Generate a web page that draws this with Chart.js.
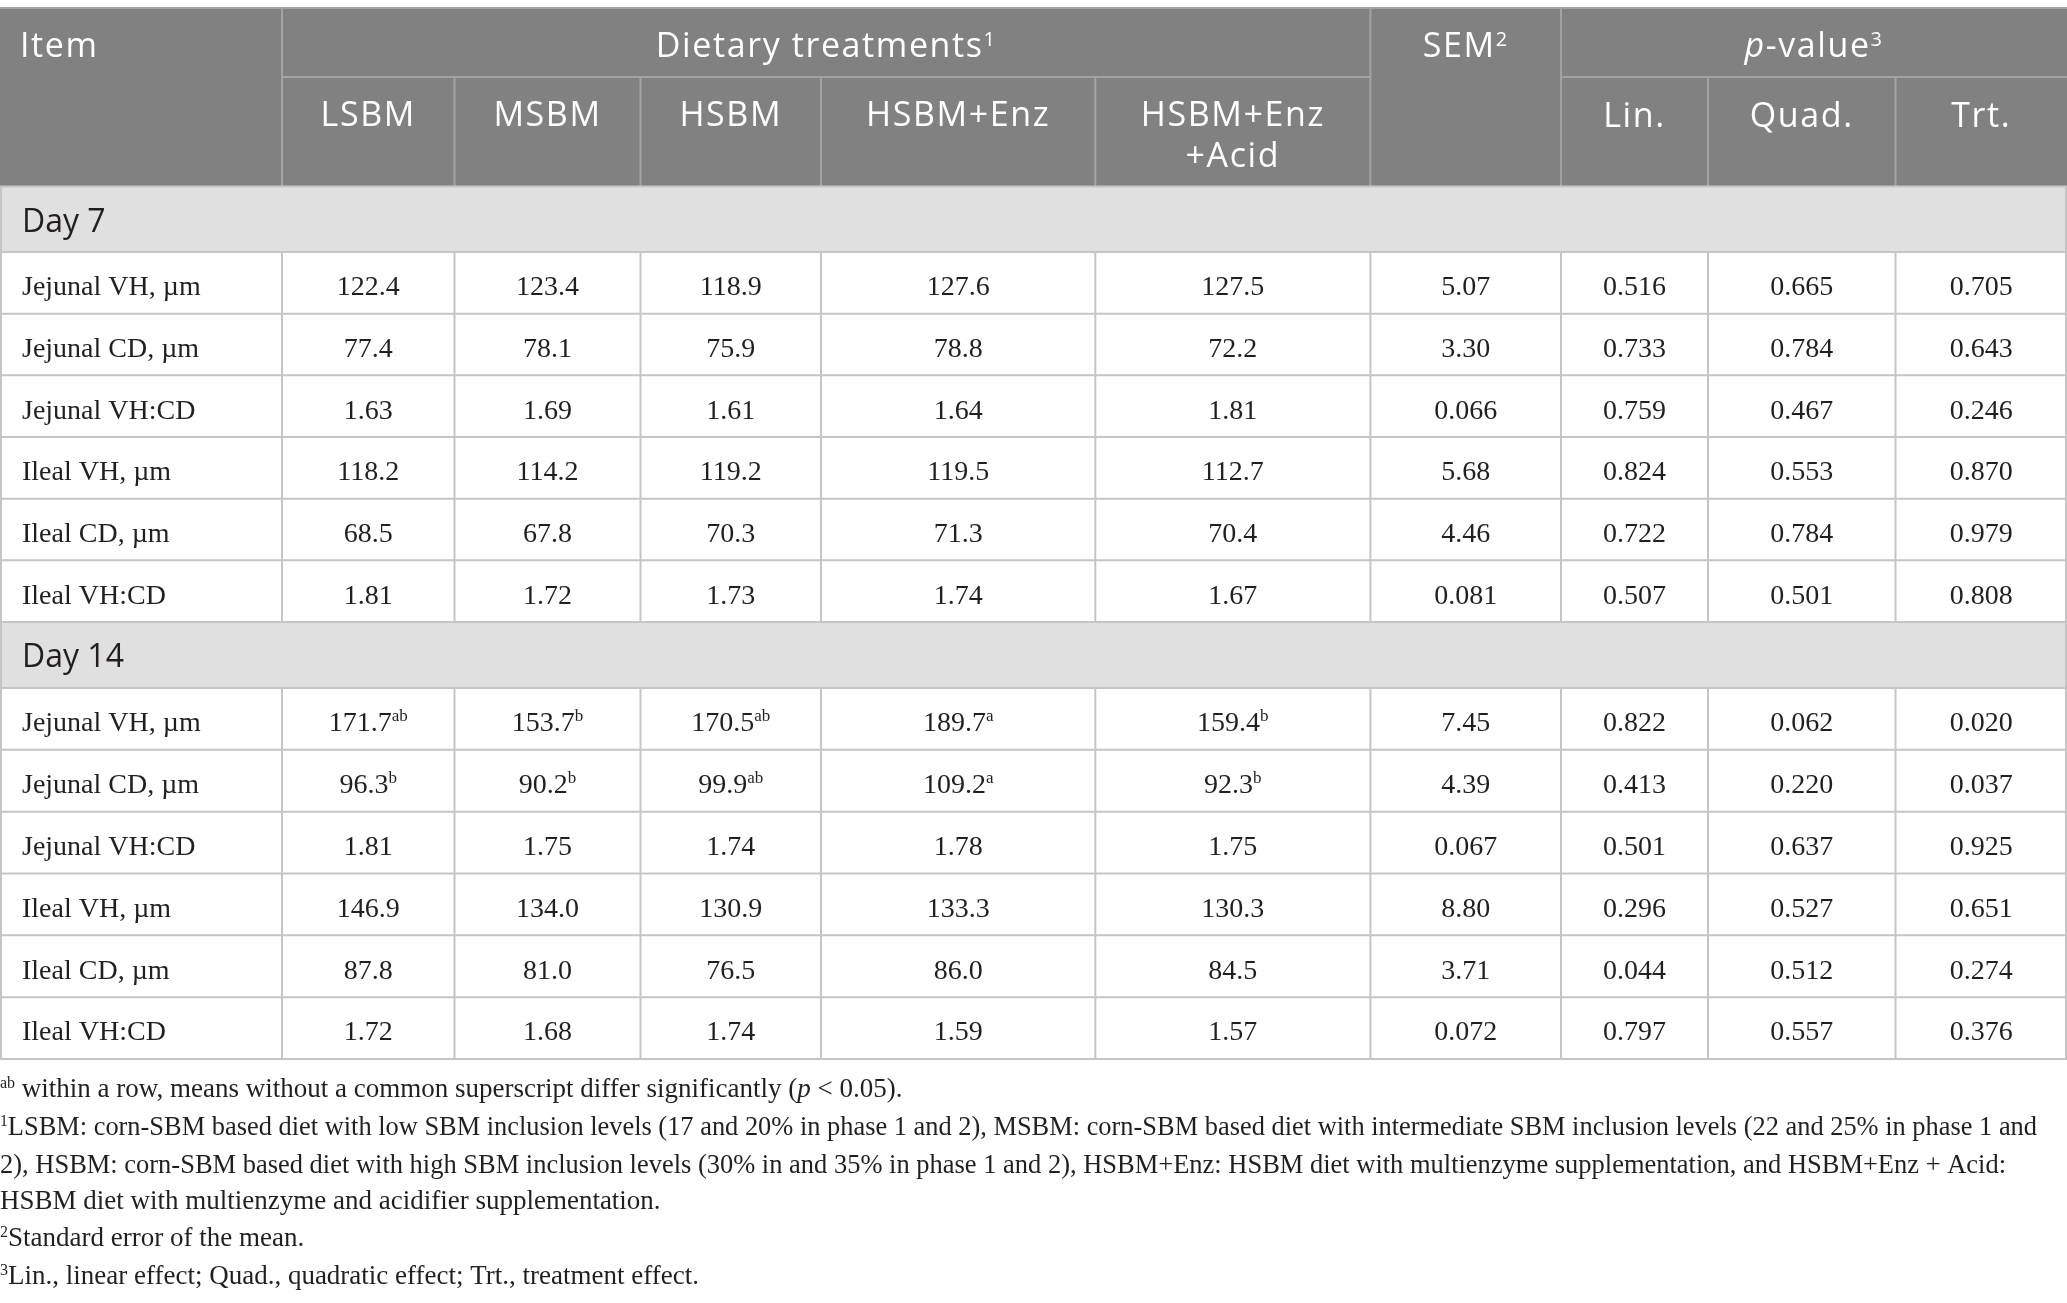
<!DOCTYPE html>
<html>
<head>
<meta charset="utf-8">
<script src="https://cdn.jsdelivr.net/npm/chart.js@4/dist/chart.umd.min.js"></script>
<style>
  html, body { margin: 0; padding: 0; background: #ffffff; overflow: hidden; }
  #wrap { position: relative; width: 2067px; height: 1303px; }
</style>
</head>
<body>
<div id="wrap"><canvas id="c"></canvas></div>
<script>
// ---------------- DATA ----------------
const treatments = ['LSBM', 'MSBM', 'HSBM', 'HSBM+Enz', 'HSBM+Enz\n+Acid'];
const effects = ['Lin.', 'Quad.', 'Trt.'];
const days = ['Day 7', 'Day 14'];
const items = ['Jejunal VH, µm', 'Jejunal CD, µm', 'Jejunal VH:CD', 'Ileal VH, µm', 'Ileal CD, µm', 'Ileal VH:CD'];
const itemDecimals = [1, 1, 2, 1, 1, 2];

const day7Means = [
  [122.4, 123.4, 118.9, 127.6, 127.5],
  [77.4, 78.1, 75.9, 78.8, 72.2],
  [1.63, 1.69, 1.61, 1.64, 1.81],
  [118.2, 114.2, 119.2, 119.5, 112.7],
  [68.5, 67.8, 70.3, 71.3, 70.4],
  [1.81, 1.72, 1.73, 1.74, 1.67]
];
const day7Letters = [
  ['', '', '', '', ''], ['', '', '', '', ''], ['', '', '', '', ''],
  ['', '', '', '', ''], ['', '', '', '', ''], ['', '', '', '', '']
];
const day7SEM = [5.07, 3.30, 0.066, 5.68, 4.46, 0.081];
const day7P = [
  [0.516, 0.665, 0.705],
  [0.733, 0.784, 0.643],
  [0.759, 0.467, 0.246],
  [0.824, 0.553, 0.870],
  [0.722, 0.784, 0.979],
  [0.507, 0.501, 0.808]
];

const day14Means = [
  [171.7, 153.7, 170.5, 189.7, 159.4],
  [96.3, 90.2, 99.9, 109.2, 92.3],
  [1.81, 1.75, 1.74, 1.78, 1.75],
  [146.9, 134.0, 130.9, 133.3, 130.3],
  [87.8, 81.0, 76.5, 86.0, 84.5],
  [1.72, 1.68, 1.74, 1.59, 1.57]
];
const day14Letters = [
  ['ab', 'b', 'ab', 'a', 'b'],
  ['b', 'b', 'ab', 'a', 'b'],
  ['', '', '', '', ''], ['', '', '', '', ''], ['', '', '', '', ''], ['', '', '', '', '']
];
const day14SEM = [7.45, 4.39, 0.067, 8.80, 3.71, 0.072];
const day14P = [
  [0.822, 0.062, 0.020],
  [0.413, 0.220, 0.037],
  [0.501, 0.637, 0.925],
  [0.296, 0.527, 0.651],
  [0.044, 0.512, 0.274],
  [0.797, 0.557, 0.376]
];

const footnotes = [
  [{ t: 'ab', sup: true }, { t: ' within a row, means without a common superscript differ significantly (' }, { t: 'p', it: true }, { t: ' < 0.05).' }],
  [{ t: '1', sup: true }, { t: 'LSBM: corn-SBM based diet with low SBM inclusion levels (17 and 20% in phase 1 and 2), MSBM: corn-SBM based diet with intermediate SBM inclusion levels (22 and 25% in phase 1 and' }],
  [{ t: '2), HSBM: corn-SBM based diet with high SBM inclusion levels (30% in and 35% in phase 1 and 2), HSBM+Enz: HSBM diet with multienzyme supplementation, and HSBM+Enz + Acid:' }],
  [{ t: 'HSBM diet with multienzyme and acidifier supplementation.' }],
  [{ t: '2', sup: true }, { t: 'Standard error of the mean.' }],
  [{ t: '3', sup: true }, { t: 'Lin., linear effect; Quad., quadratic effect; Trt., treatment effect.' }]
];

// ---------------- LAYOUT (pixel units of the scales) ----------------
const W = 2067, H = 1303;
const colEdges = [0, 282, 454.5, 640.5, 821, 1095.3, 1370.4, 1561, 1708, 1895.5, 2067];
const hdrTop = 8, hdrMid = 77, hdrBot = 186.5;
const sections = [
  { bandTop: 186.5, bandBot: 252, rowsBot: 622 },
  { bandTop: 622, bandBot: 688, rowsBot: 1059 }
];
const footBaselines = [1097, 1135, 1173, 1209, 1246, 1284];
const footFit = [null, 2037, 2006, null, null, null];

const C = {
  hdrBg: '#808180', hdrLine: '#a2a3a2', hdrText: '#ffffff',
  band: '#e1e0e1', grid: '#c5c5c5', text: '#231f20'
};
const SANS = '"Open Sans", "Noto Sans", sans-serif';
const SERIF = '"Liberation Serif", "DejaVu Serif", serif';

function fmt(v, d) { return v.toFixed(d); }

// build cell anchors (as a dataset) : one point per value cell
const cellPoints = [];
const cellTexts = [];
sections.forEach((s, si) => {
  const means = si === 0 ? day7Means : day14Means;
  const letters = si === 0 ? day7Letters : day14Letters;
  const sem = si === 0 ? day7SEM : day14SEM;
  const pv = si === 0 ? day7P : day14P;
  const rh = (s.rowsBot - s.bandBot) / items.length;
  items.forEach((it, r) => {
    const top = s.bandBot + r * rh;
    const base = top + rh * 0.70;
    cellPoints.push({ x: colEdges[0] + 22, y: base });
    cellTexts.push({ segs: [{ t: it }], align: 'left' });
    means[r].forEach((v, c) => {
      cellPoints.push({ x: (colEdges[c + 1] + colEdges[c + 2]) / 2, y: base });
      const segs = [{ t: fmt(v, itemDecimals[r]) }];
      if (letters[r][c]) segs.push({ t: letters[r][c], sup: true });
      cellTexts.push({ segs, align: 'center' });
    });
    cellPoints.push({ x: (colEdges[6] + colEdges[7]) / 2, y: base });
    cellTexts.push({ segs: [{ t: fmt(sem[r], itemDecimals[r] + 1) }], align: 'center' });
    pv[r].forEach((v, k) => {
      cellPoints.push({ x: (colEdges[7 + k] + colEdges[8 + k]) / 2, y: base });
      cellTexts.push({ segs: [{ t: fmt(v, 3) }], align: 'center' });
    });
  });
});

// ---------------- rich text helper ----------------
function segFont(seg, size, family, weight, supScale) {
  const s = seg.sup ? Math.round(size * supScale) : size;
  return (seg.it ? 'italic ' : '') + (weight || 400) + ' ' + s + 'px ' + family;
}
function richWidth(ctx, segs, size, family, weight, supScale) {
  let w = 0;
  segs.forEach(sg => { ctx.font = segFont(sg, size, family, weight, supScale); w += ctx.measureText(sg.t).width; });
  return w;
}
function drawRich(ctx, segs, x, y, align, size, family, weight, color, supScale, supRaise) {
  const w = richWidth(ctx, segs, size, family, weight, supScale);
  let cx = align === 'center' ? x - w / 2 : x;
  ctx.fillStyle = color;
  ctx.textAlign = 'left';
  ctx.textBaseline = 'alphabetic';
  segs.forEach(sg => {
    ctx.font = segFont(sg, size, family, weight, supScale);
    ctx.fillText(sg.t, cx, sg.sup ? y - supRaise : y);
    cx += ctx.measureText(sg.t).width;
  });
}

// ---------------- table plugin ----------------
const tablePlugin = {
  id: 'tablePlugin',
  afterDatasetsDraw(chart) {
    const ctx = chart.ctx;
    const xs = chart.scales.x, ys = chart.scales.y;
    const X = v => xs.getPixelForValue(v);
    const Y = v => ys.getPixelForValue(v);
    ctx.save();

    // header background
    ctx.fillStyle = C.hdrBg;
    ctx.fillRect(X(0), Y(hdrTop), X(W) - X(0), Y(hdrBot) - Y(hdrTop));

    // header lines
    ctx.strokeStyle = C.hdrLine; ctx.lineWidth = 2;
    const line = (x1, y1, x2, y2) => { ctx.beginPath(); ctx.moveTo(X(x1), Y(y1)); ctx.lineTo(X(x2), Y(y2)); ctx.stroke(); };
    line(0, hdrTop, W, hdrTop);
    [1, 6, 7].forEach(i => line(colEdges[i], hdrTop, colEdges[i], hdrBot));
    line(colEdges[1], hdrMid, colEdges[6], hdrMid);
    line(colEdges[7], hdrMid, colEdges[10], hdrMid);
    [2, 3, 4, 5, 8, 9].forEach(i => line(colEdges[i], hdrMid, colEdges[i], hdrBot));

    // sections
    ctx.strokeStyle = C.grid;
    sections.forEach(s => {
      ctx.fillStyle = C.band;
      ctx.fillRect(X(0), Y(s.bandTop), X(W) - X(0), Y(s.bandBot) - Y(s.bandTop));
      const rh = (s.rowsBot - s.bandBot) / items.length;
      for (let r = 0; r <= items.length; r++) line(0, s.bandBot + r * rh, W, s.bandBot + r * rh);
      line(0, s.bandTop, W, s.bandTop);
      line(1, s.bandTop, 1, s.bandBot);
      line(W - 1, s.bandTop, W - 1, s.bandBot);
      colEdges.forEach((e, i) => {
        const xx = i === 0 ? 1 : (i === colEdges.length - 1 ? W - 1 : e);
        line(xx, s.bandBot, xx, s.rowsBot);
      });
    });

    // header texts
    if ('letterSpacing' in ctx) ctx.letterSpacing = '1.6px';
    const hs = 34, hBase1 = 57, hBase2 = 127;
    drawRich(ctx, [{ t: 'Item' }], X(20), Y(hBase1), 'left', hs, SANS, 400, C.hdrText, 0.6, 11);
    drawRich(ctx, [{ t: 'Dietary treatments' }, { t: '1', sup: true }], X((colEdges[1] + colEdges[6]) / 2), Y(hBase1), 'center', hs, SANS, 400, C.hdrText, 0.6, 11);
    drawRich(ctx, [{ t: 'SEM' }, { t: '2', sup: true }], X((colEdges[6] + colEdges[7]) / 2), Y(hBase1), 'center', hs, SANS, 400, C.hdrText, 0.6, 11);
    drawRich(ctx, [{ t: 'p', it: true }, { t: '-value' }, { t: '3', sup: true }], X((colEdges[7] + colEdges[10]) / 2), Y(hBase1), 'center', hs, SANS, 400, C.hdrText, 0.6, 11);
    treatments.forEach((t, i) => {
      const cx = X((colEdges[i + 1] + colEdges[i + 2]) / 2);
      t.split('\n').forEach((ln, k) => {
        drawRich(ctx, [{ t: ln }], cx, Y(hBase2 - 1 + k * 41), 'center', hs, SANS, 400, C.hdrText, 0.6, 11);
      });
    });
    effects.forEach((t, i) => {
      drawRich(ctx, [{ t }], X((colEdges[7 + i] + colEdges[8 + i]) / 2), Y(hBase2), 'center', hs, SANS, 400, C.hdrText, 0.6, 11);
    });
    if ('letterSpacing' in ctx) ctx.letterSpacing = '0px';

    // day labels
    sections.forEach((s, si) => {
      drawRich(ctx, [{ t: days[si] }], X(22), Y(s.bandTop + 45), 'left', 32, SANS, 400, C.text, 0.6, 10);
    });

    // cell texts at dataset element positions
    const meta = chart.getDatasetMeta(0);
    meta.data.forEach((el, i) => {
      const ct = cellTexts[i];
      drawRich(ctx, ct.segs, el.x, el.y, ct.align, 28, SERIF, 400, C.text, 0.6, 10);
    });

    // footnotes
    footnotes.forEach((segs, i) => {
      const y = Y(footBaselines[i]);
      const w = richWidth(ctx, segs, 27, SERIF, 400, 0.6);
      ctx.save();
      ctx.translate(X(0), 0);
      if (footFit[i]) ctx.scale((X(footFit[i]) - X(0)) / w, 1);
      drawRich(ctx, segs, 0, y, 'left', 27, SERIF, 400, C.text, 0.6, 9);
      ctx.restore();
    });

    ctx.restore();
  }
};

new Chart(document.getElementById('c'), {
  type: 'scatter',
  data: { datasets: [{ data: cellPoints, pointRadius: 0, pointHoverRadius: 0, showLine: false }] },
  options: {
    responsive: true,
    maintainAspectRatio: false,
    animation: false,
    events: [],
    layout: { padding: 0 },
    scales: {
      x: { type: 'linear', min: 0, max: W, display: false },
      y: { type: 'linear', min: 0, max: H, reverse: true, display: false }
    },
    plugins: { legend: { display: false }, tooltip: { enabled: false } }
  },
  plugins: [tablePlugin]
});
</script>
</body>
</html>
